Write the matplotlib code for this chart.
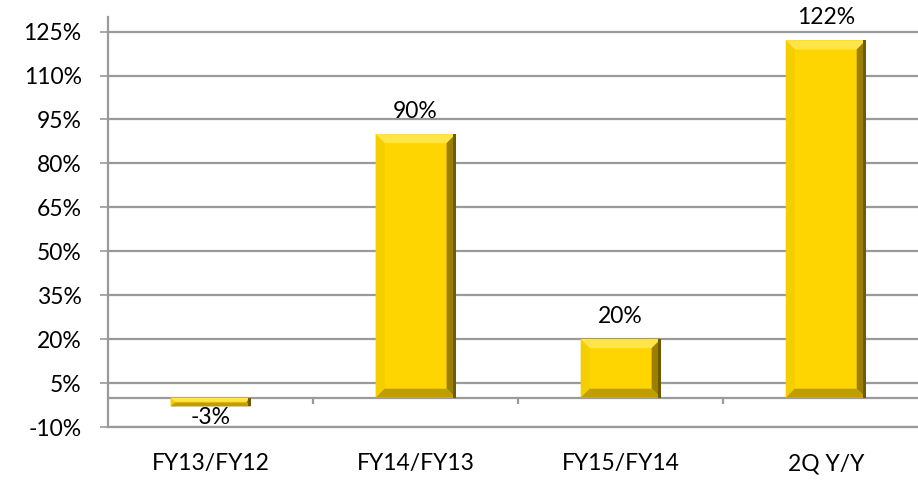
import matplotlib.pyplot as plt
from matplotlib.patches import Polygon
import numpy as np

# growth rates per period
periods = ["FY13/FY12", "FY14/FY13", "FY15/FY14", "2Q Y/Y"]
growth = [-3, 90, 20, 122]
yticks = list(range(-10, 126, 15))

plt.rcParams['font.family'] = ['Lato', 'DejaVu Sans']

W, H = 918, 480
fig = plt.figure(figsize=(W / 100, H / 100), dpi=100)
left, right, bottom, top = 108, 918, 427, 17
ax = fig.add_axes([left / W, 1 - bottom / H, (right - left) / W, (bottom - top) / H])

xlim = (-0.5, 3.45)
ylim = (-10, 130)
ax.set_xlim(*xlim)
ax.set_ylim(*ylim)

grid_c = "#9a9a9a"
for y in yticks:
    ax.axhline(y, color=grid_c, lw=1.6, zorder=1)
ax.axhline(0, color=grid_c, lw=1.6, zorder=1)

# data units per pixel
px_x = (xlim[1] - xlim[0]) / (right - left)
px_y = (ylim[1] - ylim[0]) / (bottom - top)

# category dividers on the zero line
ax.vlines([0.5, 1.5, 2.5], -6 * px_y, 0, color=grid_c, lw=1.6, zorder=1)

bar_w = 0.39
x = np.arange(len(periods))
bars = ax.bar(x, growth, width=bar_w, color="#FFD500", edgecolor="none", zorder=3)

# bevelled faces on each bar
for b in bars:
    x0, x1 = b.get_x(), b.get_x() + b.get_width()
    y0, y1 = sorted([b.get_y(), b.get_y() + b.get_height()])
    bx = 9 * px_x
    by = 9 * px_y
    if (y1 - y0) < 2.2 * by:
        by = (y1 - y0) / 2.2
        bx = by / px_y * px_x
    ix0, ix1, iy0, iy1 = x0 + bx, x1 - bx, y0 + by, y1 - by
    faces = [
        ([(x0, y1), (x1, y1), (ix1, iy1), (ix0, iy1)], "#FFE54A"),  # top
        ([(x0, y0), (x0, y1), (ix0, iy1), (ix0, iy0)], "#F5CE00"),  # left
        ([(x1, y0), (x1, y1), (ix1, iy1), (ix1, iy0)], "#9C7F00"),  # right
        ([(x0, y0), (x1, y0), (ix1, iy0), (ix0, iy0)], "#C09D00"),  # bottom
    ]
    for pts, c in faces:
        ax.add_patch(Polygon(pts, closed=True, color=c, lw=0, zorder=4))
    # darker outer strip on the right side
    ax.add_patch(Polygon([(x1 - 3 * px_x, y0), (x1, y0), (x1, y1), (x1 - 3 * px_x, y1)],
                         closed=True, color="#6E5A00", lw=0, zorder=5))

# value labels
for xi, v in zip(x, growth):
    if v >= 0:
        ax.text(xi, v + 12 * px_y, f"{v}%", ha="center", va="bottom", fontsize=16.5, zorder=6)
    else:
        ax.text(xi, v - 1 * px_y, f"{v}%", ha="center", va="top", fontsize=16.5, zorder=6)

ax.set_yticks(yticks)
ax.set_yticklabels([f"{t}%" for t in yticks], fontsize=16.5)
ax.set_xticks(x)
ax.set_xticklabels(periods, fontsize=16.5)
ax.tick_params(axis="x", length=0, pad=19)
ax.tick_params(axis="y", length=6, width=1.2, color=grid_c, pad=13)

for s in ["top", "right"]:
    ax.spines[s].set_visible(False)
for s in ["left", "bottom"]:
    ax.spines[s].set_color(grid_c)
    ax.spines[s].set_linewidth(1.6)

fig.savefig("out.png", dpi=100)
